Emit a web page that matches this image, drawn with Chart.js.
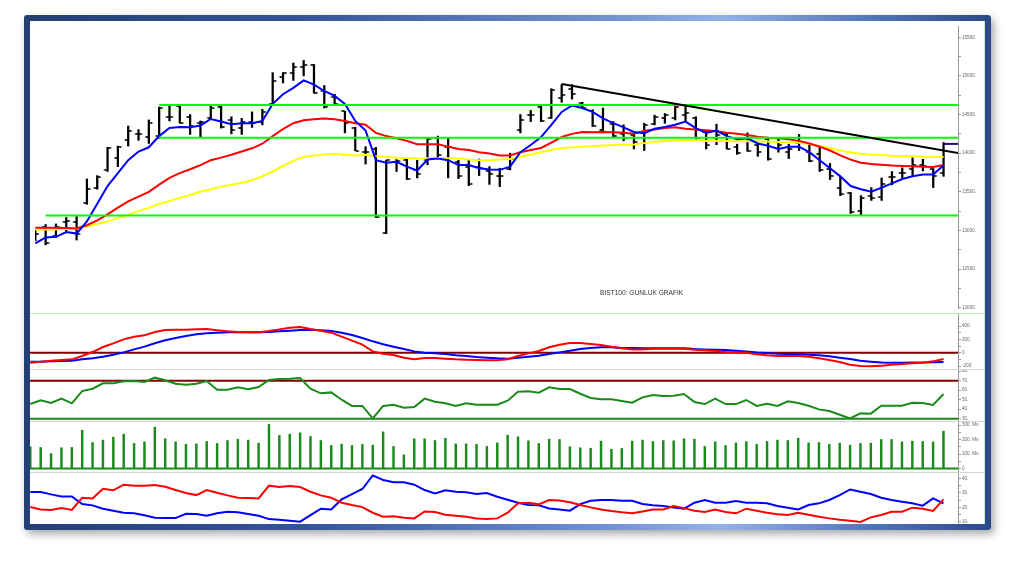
<!DOCTYPE html>
<html><head><meta charset="utf-8">
<script src="https://cdn.jsdelivr.net/npm/chart.js@4.4.1/dist/chart.umd.min.js"></script>
<style>
html,body{margin:0;padding:0;background:#fff;width:1016px;height:562px;overflow:hidden;}
#frame{position:absolute;left:24px;top:15px;width:967px;height:515px;border-radius:3px;
background:linear-gradient(90deg,#243f72 0%,#34569a 30%,#6f93d0 60%,#93b2e6 72%,#4f74b6 88%,#2a4a86 100%);
box-shadow:3px 4px 8px rgba(0,0,0,0.35);}
#inner{position:absolute;left:30px;top:21px;width:955px;height:503px;background:#fff;}
canvas{position:absolute;}
.sep{position:absolute;left:30px;width:954px;height:1px;background:#d4d4d4;}
#rline{position:absolute;left:984px;top:21px;width:1px;height:503px;background:#cfe6cf;}
#lbl{position:absolute;left:600px;top:289px;font-family:'Liberation Sans',Arial,sans-serif;font-size:6.6px;color:#333;white-space:nowrap;}
</style></head><body>
<div id="frame"></div>
<div id="inner"></div>
<div id="rline"></div>
<div class="sep" style="top:313px;background:#bfe3bf;"></div>
<div class="sep" style="top:369px;"></div>
<div class="sep" style="top:421px;"></div>
<div class="sep" style="top:472px;"></div>
<canvas id="cPrice" width="954" height="292" style="left:30px;top:21px"></canvas>
<canvas id="cMacd" width="954" height="55" style="left:30px;top:314px"></canvas>
<canvas id="cRsi" width="954" height="51" style="left:30px;top:370px"></canvas>
<canvas id="cVol" width="954" height="50" style="left:30px;top:422px"></canvas>
<canvas id="cDmi" width="954" height="51" style="left:30px;top:473px"></canvas>
<div id="lbl">BIST100: GUNLUK GRAFIK</div>
<script>
// ---------- DATA ----------
const opens  = [12930,13040,12930,13109,13109,13355,13551,13776,13942,14176,14242,14209,14221,14471,14609,14471,14388,14460,14596,14430,14325,14409,14409,14638,14992,15034,15117,15138,14805,14721,14542,14325,14013,14055,12971,13888,13917,13784,13917,14192,14076,13888,13826,13826,13763,13700,13800,14300,14492,14596,14460,14720,14825,14650,14550,14300,14380,14250,14240,14270,14380,14450,14450,14500,14460,14270,14200,14250,14080,14240,14100,14180,14150,14020,14130,14020,13990,13800,13550,13480,13250,13450,13430,13690,13740,13800,13850,13800,13740];
const highs  = [13001,13076,13084,13167,13180,13667,13709,14076,14092,14351,14305,14430,14596,14617,14617,14500,14417,14617,14617,14471,14450,14534,14567,15042,15042,15167,15200,15150,14876,14763,14542,14334,14084,14076,13909,13917,13930,13909,14200,14221,14201,13909,13920,13925,13826,13805,14000,14500,14554,14617,14834,14888,14888,14659,14563,14584,14409,14367,14263,14388,14492,14513,14617,14617,14471,14292,14375,14263,14117,14263,14125,14200,14192,14117,14242,14117,14075,13867,13700,13492,13450,13554,13679,13763,13810,13940,13920,13800,14138];
const lows   = [12867,12813,12909,12992,12876,13338,13534,13763,13826,14092,14167,14126,14192,14417,14388,14242,14209,14442,14325,14250,14242,14334,14367,14638,14909,14942,15001,14776,14584,14617,14263,14034,13859,13167,12959,13763,13659,13680,13850,13951,13680,13670,13580,13710,13596,13567,13784,14263,14409,14409,14450,14659,14700,14575,14346,14263,14200,14159,14055,14034,14367,14388,14430,14409,14180,14055,14109,14055,13984,14025,13959,13909,14013,13930,14034,13888,13763,13659,13450,13221,13200,13388,13388,13590,13670,13710,13770,13555,13700];
const closes = [12950,12840,13050,13126,12950,13534,13692,14063,14076,14284,14242,14388,14584,14471,14396,14346,14409,14590,14334,14305,14409,14388,14534,14930,15034,15117,15138,14784,14596,14638,14388,14034,14013,13175,13909,13900,13667,13734,14180,13980,14076,13700,13596,13805,13734,13700,13930,14430,14492,14417,14820,14750,14763,14580,14350,14280,14220,14200,14150,14370,14470,14500,14600,14520,14190,14100,14230,14060,14000,14030,14010,13920,14100,14050,14130,13900,13780,13700,13470,13240,13420,13420,13600,13690,13740,13850,13830,13700,14120];
const maBlue   = [12834,12909,12917,12980,12959,13117,13346,13575,13742,13909,14021,14076,14221,14325,14338,14334,14359,14442,14409,14375,14388,14388,14417,14638,14763,14846,14942,14888,14805,14742,14638,14417,14292,13909,13876,13888,13826,13776,13917,13930,13909,13846,13846,13805,13788,13784,13825,14013,14105,14209,14367,14534,14617,14584,14534,14450,14388,14334,14275,14258,14315,14338,14367,14409,14325,14263,14292,14221,14180,14192,14125,14096,14055,14084,14084,14013,13909,13805,13700,13575,13534,13500,13554,13610,13665,13700,13725,13725,13843];
const maRed    = [13034,13034,13034,13030,13025,13067,13130,13209,13296,13375,13438,13500,13592,13680,13742,13792,13846,13909,13942,13980,14021,14063,14122,14221,14313,14388,14426,14438,14450,14438,14417,14388,14367,14263,14221,14192,14159,14117,14117,14117,14084,14055,14042,14013,13996,13971,13971,14013,14042,14067,14138,14209,14250,14275,14271,14275,14271,14263,14250,14290,14305,14325,14334,14317,14305,14296,14284,14263,14250,14234,14213,14200,14192,14180,14159,14125,14084,14034,13971,13917,13875,13859,13850,13840,13834,13830,13825,13822,13846];
const maYellow = [13013,13013,13013,13017,13025,13055,13084,13117,13159,13200,13250,13292,13342,13380,13421,13459,13500,13534,13567,13592,13617,13650,13700,13763,13834,13900,13950,13971,13984,13992,13980,13971,13980,13959,13950,13942,13938,13930,13934,13938,13934,13930,13917,13909,13909,13917,13925,13950,13984,14013,14042,14067,14075,14084,14092,14100,14105,14109,14113,14130,14145,14159,14163,14167,14167,14159,14159,14159,14155,14155,14150,14150,14146,14142,14134,14117,14092,14063,14034,14009,13992,13980,13975,13967,13963,13959,13954,13950,13950];
const levels      = [14625, 14200, 13192];
const levelStarts = [12, 12, 1];
const trendLine   = [[51, 14896], [89.4, 14003]];
const macdLine   = [-150,-135,-120,-110,-100,-50,10,86,141,201,241,261,311,341,346,346,351,356,336,321,311,306,306,326,351,376,386,356,331,301,241,181,121,20,-15,-35,-75,-100,-80,-80,-90,-100,-105,-110,-112,-112,-100,-50,-10,25,81,121,146,146,131,116,91,66,50,50,61,61,61,61,46,36,25,10,5,0,-25,-40,-50,-50,-50,-60,-85,-110,-140,-180,-200,-205,-195,-182,-170,-160,-150,-130,-95];
const macdSignal = [-135,-135,-130,-125,-120,-100,-85,-60,-30,5,50,91,141,186,221,251,276,291,301,306,306,306,306,311,321,331,341,346,336,326,301,266,221,171,126,91,56,20,0,-10,-20,-40,-50,-65,-75,-85,-90,-75,-60,-45,-20,5,30,56,71,81,81,71,71,66,66,66,66,66,56,50,46,41,30,20,5,-5,-15,-20,-25,-30,-40,-55,-75,-95,-120,-135,-148,-152,-150,-148,-146,-143,-140];
const rsi = [45.4,49.3,46.5,51.1,46.2,59.1,61.6,67.2,67.2,69.3,69.7,68.6,73.2,70.4,66.8,65.8,66.8,69.7,60.5,60.5,63.0,60.9,63.3,70.7,71.8,72.1,72.8,61.6,56.7,57.7,50.0,43.4,43.4,30.4,43.4,44.7,41.6,42.3,51.1,47.9,46.2,43.4,46.2,44.7,44.7,44.7,49.0,58.4,58.8,57.4,63.0,61.2,61.2,56.3,51.8,50.4,50.4,48.6,46.8,52.5,54.9,53.9,54.2,56.0,47.5,45.4,51.1,45.4,45.4,49.7,43.4,45.8,43.4,48.3,46.5,43.7,39.8,38.1,34.2,30.4,35.6,35.3,43.7,43.7,43.7,46.8,46.5,44.4,56.0];
const rsiLevels = [70, 30];
const volume = [150,145,103,143,145,264,179,196,216,237,173,184,285,205,184,166,170,186,173,193,202,196,175,304,228,237,246,221,193,159,168,159,166,161,253,152,94,205,205,193,209,170,170,166,152,177,230,219,191,173,202,200,150,143,140,189,133,138,189,196,186,193,191,205,202,152,184,159,177,186,166,186,196,193,209,177,179,166,175,161,173,175,200,200,184,189,186,184,258];
const dmiPlus  = [30.5,30.5,28.9,27.5,27.5,22.2,21.3,19.0,17.6,16.2,15.8,14.4,12.8,12.5,12.5,15.5,15.3,14.1,15.8,16.9,16.5,15.3,14.1,11.8,11.4,10.7,10.0,14.6,19.0,18.5,25.4,29.1,32.6,42.0,38.8,37.2,37.2,35.6,31.9,29.6,31.7,30.7,30.3,29.1,29.8,27.3,25.2,23.1,21.5,21.3,19.2,18.5,17.6,22.2,24.5,25.0,25.0,24.5,24.5,22.2,21.3,20.8,19.9,19.0,23.1,25.0,23.1,23.1,24.3,23.1,23.1,22.7,20.8,19.7,18.5,21.5,22.7,25.0,28.4,32.3,30.7,29.1,26.6,25.0,23.8,22.7,21.1,26.1,22.7];
const dmiMinus = [20.1,18.5,18.1,19.4,18.1,26.6,26.1,32.8,31.7,35.6,34.9,34.9,35.3,34.2,31.9,29.8,28.4,31.9,30.0,28.2,26.6,26.4,26.1,34.9,34.0,34.7,34.0,30.7,28.2,26.6,23.1,21.5,20.1,16.2,13.5,13.7,12.8,12.3,17.1,16.7,14.8,14.1,13.5,12.3,11.8,12.3,16.2,22.7,23.1,22.0,25.0,24.7,23.4,21.5,19.9,18.5,17.4,16.5,15.8,17.1,18.5,18.5,20.8,19.4,17.6,16.7,18.5,16.7,15.8,19.0,17.6,16.2,15.1,14.6,16.2,14.8,13.5,12.3,11.4,10.7,9.8,13.0,14.6,16.9,16.9,19.7,19.0,17.4,25.4];
const priceTicks = [12000,12500,13000,13500,14000,14500,15000,15500];
const macdTicks  = [-200,0,200,400];
const rsiTicks   = [30,40,50,60,70,80];
const volTicks   = [0,100,200,300];
const dmiTicks   = [10,20,30,40];

// ---------- HELPERS ----------
const X_MIN = -0.03, X_MAX = 89.4;
const pts = arr => arr.map((v, i) => ({x: i, y: v}));
const hline = (v, x0) => [{x: x0, y: v}, {x: X_MAX, y: v}];
const mids = t => t.slice(1).map((v, i) => (v + t[i]) / 2);

function tickImg(side) {
  const c = document.createElement('canvas');
  c.width = 10; c.height = 2;
  const g = c.getContext('2d');
  g.fillStyle = '#000';
  if (side === 'L') g.fillRect(1.5, 0.2, 3.3, 1.6); else g.fillRect(5.2, 0.2, 3.3, 1.6);
  return c;
}

function opts(yMin, yMax, majors, minors, fmt) {
  return {
    responsive: false, animation: false, events: [],
    layout: {padding: 0},
    plugins: {legend: {display: false}, tooltip: {enabled: false}, title: {display: false}},
    scales: {
      x: {type: 'linear', min: X_MIN, max: X_MAX, display: false, offset: false},
      y: {
        type: 'linear', position: 'right', min: yMin, max: yMax,
        afterFit: s => { s.width = 26; s.paddingTop = 0; s.paddingBottom = 0; },
        afterBuildTicks: s => { s.ticks = majors.concat(minors).sort((a, b) => a - b).map(v => ({value: v})); },
        ticks: {autoSkip: false, padding: 1, color: '#666',
          font: {family: 'Liberation Sans', size: 4.6},
          callback: v => majors.includes(v) ? fmt(v) : ''},
        grid: {drawOnChartArea: false, drawTicks: true, tickLength: 3, color: '#9a9a9a', lineWidth: 1},
        border: {display: true, color: '#9a9a9a', width: 1}
      }
    }
  };
}
const lineDs = (data, color, w, order) => ({type: 'line', data, borderColor: color, borderWidth: w, pointRadius: 0, tension: 0, fill: false, order});
const dot = v => v + '.';
const dotZero = v => v === 0 ? '0' : v + '.';

// ---------- PRICE ----------
const priceDs = [
  lineDs(trendLine.map(p => ({x: p[0], y: p[1]})), '#000000', 2, 0),
  ...levels.map((v, k) => lineDs(hline(v, levelStarts[k]), '#00ff00', 2, 1)),
  lineDs(hline(closes[closes.length - 1], closes.length - 1), '#14147a', 2, 2),
  lineDs(pts(maBlue), '#0000ff', 2, 3),
  lineDs(pts(maRed), '#ff0000', 2, 4),
  lineDs(pts(maYellow), '#ffff00', 2, 5),
  {type: 'line', data: pts(opens), showLine: false, pointStyle: tickImg('L'), pointRadius: 3, order: 6},
  {type: 'line', data: pts(closes), showLine: false, pointStyle: tickImg('R'), pointRadius: 3, order: 6},
  {type: 'bar', data: lows.map((l, i) => ({x: i, y: [l, highs[i]]})), backgroundColor: '#000', borderWidth: 0, barThickness: 1.6, grouped: false, order: 7}
];
new Chart(document.getElementById('cPrice'), {type: 'line', data: {datasets: priceDs},
  options: opts(11996, 15646, priceTicks, mids(priceTicks), dot)});

// ---------- MACD ----------
new Chart(document.getElementById('cMacd'), {type: 'line', data: {datasets: [
  lineDs(pts(macdLine), '#ff0000', 2, 0),
  lineDs(pts(macdSignal), '#0000ff', 2, 1),
  lineDs(hline(0, X_MIN), '#800000', 2, 2)
]}, options: opts(-245, 582, macdTicks, mids(macdTicks), dotZero)});

// ---------- RSI ----------
new Chart(document.getElementById('cRsi'), {type: 'line', data: {datasets: [
  lineDs(pts(rsi), '#1a8a1a', 2, 0),
  lineDs(hline(rsiLevels[0], X_MIN), '#800000', 2, 1),
  lineDs(hline(rsiLevels[1], X_MIN), '#1a8a1a', 2, 1)
]}, options: opts(27.58, 81.26, rsiTicks, [], dot)});

// ---------- VOLUME ----------
new Chart(document.getElementById('cVol'), {type: 'line', data: {datasets: [
  lineDs(hline(0, X_MIN), '#1a8a1a', 2, 0),
  {type: 'bar', data: pts(volume), backgroundColor: '#1a8a1a', borderWidth: 0, barThickness: 1.8, grouped: false, order: 1}
]}, options: opts(-24.15, 320.85, volTicks, mids(volTicks), v => v === 0 ? '0' : v + '. Mn')});

// ---------- DMI ----------
new Chart(document.getElementById('cDmi'), {type: 'line', data: {datasets: [
  lineDs(pts(dmiMinus), '#ff0000', 2, 0),
  lineDs(pts(dmiPlus), '#0000ff', 2, 1)
]}, options: opts(8.42, 43.66, dmiTicks, mids(dmiTicks), dot)});
</script>
</body></html>
